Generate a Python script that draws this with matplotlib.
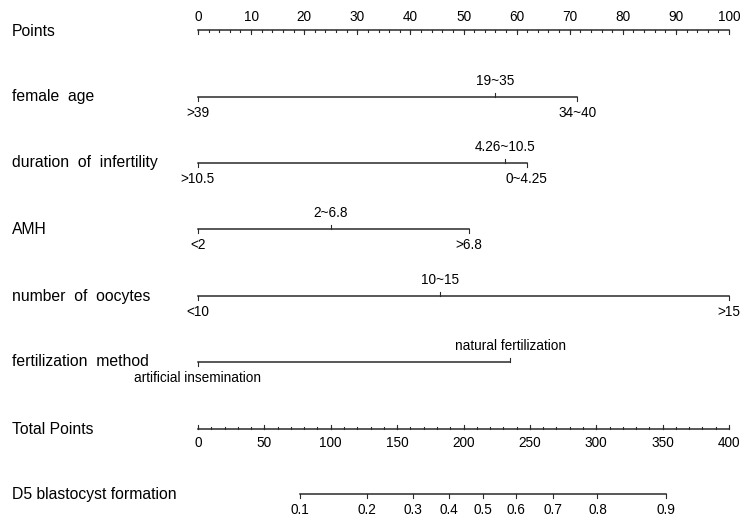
import matplotlib
matplotlib.use("Agg")
import matplotlib.pyplot as plt
import numpy as np

plt.rcParams['font.family'] = ['Liberation Sans', 'DejaVu Sans']

# points scale
points_major = list(range(0, 101, 10))
points_minor = list(range(0, 101, 2))

# variables: (row label, [(level, points, above?)])
var_names = ["female  age", "duration  of  infertility", "AMH",
             "number  of  oocytes", "fertilization  method"]
var_levels = [
    [(">39", 0.0, False), ("19~35", 56.0, True), ("34~40", 71.4, False)],
    [(">10.5", 0.0, False), ("4.26~10.5", 57.9, True), ("0~4.25", 61.9, False)],
    [("<2", 0.0, False), ("2~6.8", 25.0, True), (">6.8", 51.0, False)],
    [("<10", 0.0, False), ("10~15", 45.6, True), (">15", 100.0, False)],
    [("artificial insemination", 0.0, False), ("natural fertilization", 58.8, True)],
]

# total points scale
total_major = list(range(0, 401, 50))
total_minor = list(range(0, 401, 10))

# probability scale, position in total points
prob_labels = ["0.1", "0.2", "0.3", "0.4", "0.5", "0.6", "0.7", "0.8", "0.9"]
prob_total = [76.8, 127.5, 161.7, 189.1, 214.5, 239.8, 267.7, 300.9, 352.4]

fig = plt.figure(figsize=(7.43, 5.17), dpi=100)
ax = fig.add_axes([0, 0, 1, 1])
px = 5.31  # pixels per point
ax.set_xlim(-198 / px, (743 - 198) / px)
ax.set_ylim(517, 0)
ax.axis("off")

lab_x = (12 - 198) / px
fs = 9.8      # tick labels
fs_row = 11.3  # row names
lc = "#2a2a2a"
tick_big = 4
tick_small = 2

# Points row
y = 30
ax.text(lab_x, y + 2, "Points", fontsize=fs_row, va="center", ha="left")
ax.plot([0, 100], [y, y], color=lc, lw=1.1)
for v in points_minor:
    ax.plot([v, v], [y, y + tick_small], color=lc, lw=0.8)
for v in points_major:
    ax.plot([v, v], [y, y + tick_big], color=lc, lw=0.8)
    ax.text(v, y - 13, str(v), fontsize=fs, ha="center", va="center")

# variable rows
rows_y = [97, 163, 229, 296, 362]
for name, levels, y in zip(var_names, var_levels, rows_y):
    ax.text(lab_x, y, name, fontsize=fs_row, va="center", ha="left")
    pts = [p for _, p, _ in levels]
    ax.plot([min(pts), max(pts)], [y, y], color=lc, lw=1.1)
    for lab, p, above in levels:
        if above:
            ax.plot([p, p], [y, y - tick_big], color=lc, lw=0.8)
            ax.text(p, y - 16, lab, fontsize=fs, ha="center", va="center")
        else:
            ax.plot([p, p], [y, y + tick_big], color=lc, lw=0.8)
            ax.text(p, y + 16, lab, fontsize=fs, ha="center", va="center")

# Total points row
y = 429
sc = 100 / 400
ax.text(lab_x, y + 1, "Total Points", fontsize=fs_row, va="center", ha="left")
ax.plot([0, 100], [y, y], color=lc, lw=1.1)
for v in total_minor:
    ax.plot([v * sc, v * sc], [y, y - tick_small], color=lc, lw=0.8)
for v in total_major:
    ax.plot([v * sc, v * sc], [y, y - tick_big], color=lc, lw=0.8)
    ax.text(v * sc, y + 14, str(v), fontsize=fs, ha="center", va="center")

# probability row
y = 494
ax.text(lab_x, y, "D5 blastocyst formation", fontsize=fs_row, va="center", ha="left")
ax.plot([prob_total[0] * sc, prob_total[-1] * sc], [y, y], color=lc, lw=1.1)
for lab, t in zip(prob_labels, prob_total):
    ax.plot([t * sc, t * sc], [y, y + tick_big], color=lc, lw=0.8)
    ax.text(t * sc, y + 16, lab, fontsize=fs, ha="center", va="center")

fig.savefig("out.png", dpi=100)
